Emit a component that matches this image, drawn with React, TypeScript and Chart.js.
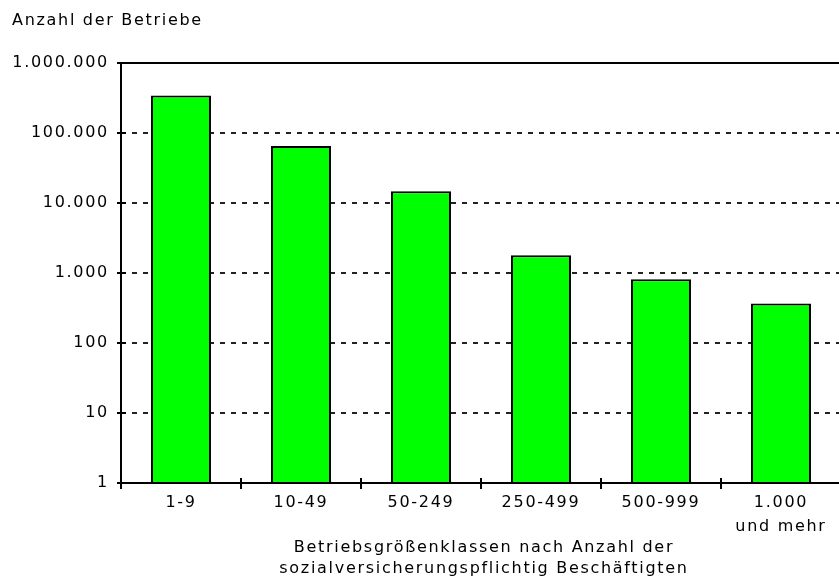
import React, { useEffect, useRef } from "react";
import { Chart, registerables } from "chart.js";

Chart.register(...registerables);

const categories: (string | string[])[] = ["1-9", "10-49", "50-249", "250-499", "500-999", ["1.000", "und mehr"]];
const betriebe: number[] = [343000, 65000, 14700, 1790, 817, 367];
const yTickValues: number[] = [1, 10, 100, 1000, 10000, 100000, 1000000];
const yTickLabels: string[] = ["1", "10", "100", "1.000", "10.000", "100.000", "1.000.000"];
const yTitle = "Anzahl der Betriebe";
const xTitle: string[] = ["Betriebsgrößenklassen nach Anzahl der", "sozialversicherungspflichtig Beschäftigten"];

const FONT_FAMILY = '"DejaVu Sans", sans-serif';
const FONT_SIZE = 16;
const LS = "1.7px";

const decorPlugin = {
  id: "decor",
  beforeDraw(chart: any) {
    chart.ctx.letterSpacing = LS;
  },
  afterDraw(chart: any) {
    const ctx = chart.ctx as CanvasRenderingContext2D;
    const a = chart.chartArea;
    const yScale = chart.scales.y;
    const line = (x1: number, y1: number, x2: number, y2: number) => {
      ctx.beginPath();
      ctx.moveTo(x1, y1);
      ctx.lineTo(x2, y2);
      ctx.stroke();
    };
    ctx.save();
    ctx.strokeStyle = "#000";
    ctx.lineWidth = 2;
    ctx.setLineDash([]);
    line(a.left, a.top, a.right + 10, a.top);
    line(a.left, a.top, a.left, a.bottom + 6);
    line(a.left - 4, a.bottom, a.right + 10, a.bottom);
    yScale.ticks.forEach((t: any) => {
      const y = yScale.getPixelForValue(t.value);
      line(a.left - 4, y, a.left + 5, y);
    });
    const n = categories.length;
    for (let i = 0; i <= n; i++) {
      const x = a.left + (i * (a.right - a.left)) / n;
      line(x, a.bottom - 5, x, a.bottom + 6);
    }
    ctx.fillStyle = "#000";
    ctx.font = `${FONT_SIZE}px ${FONT_FAMILY}`;
    (ctx as any).letterSpacing = LS;
    ctx.textBaseline = "middle";
    ctx.textAlign = "left";
    ctx.fillText(yTitle, 12, a.top - 42);
    ctx.textAlign = "center";
    const cx = (a.left + a.right) / 2 + 3;
    ctx.fillText(xTitle[0], cx, a.bottom + 65);
    ctx.fillText(xTitle[1], cx, a.bottom + 86);
    ctx.restore();
  },
};

export default function App() {
  const ref = useRef<HTMLCanvasElement | null>(null);
  useEffect(() => {
    if (!ref.current) return;
    const chart = new Chart(ref.current, {
      type: "bar",
      data: {
        labels: categories,
        datasets: [
          {
            data: betriebe,
            backgroundColor: "#00ff00",
            borderColor: "#000",
            borderWidth: 2,
            barPercentage: 0.5,
            categoryPercentage: 1,
          },
        ],
      },
      options: {
        responsive: false,
        animation: false,
        layout: { padding: { left: 0, top: 63, right: 4, bottom: 0 } },
        plugins: {
          legend: { display: false },
          tooltip: { enabled: false },
          title: { display: false },
        },
        scales: {
          x: {
            type: "category",
            grid: { display: false, drawTicks: false },
            border: { display: false },
            ticks: {
              color: "#000",
              padding: 8,
              maxRotation: 0,
              autoSkip: false,
              font: { family: FONT_FAMILY, size: FONT_SIZE, lineHeight: "24px" } as any,
            },
            afterFit: (s: any) => {
              s.height = 99;
            },
          },
          y: {
            type: "logarithmic",
            min: 1,
            max: 1000000,
            grid: { color: "#222", lineWidth: 2, drawTicks: false },
            border: { display: false, dash: [5, 6] },
            afterBuildTicks: (s: any) => {
              s.ticks = yTickValues.map((v) => ({ value: v }));
            },
            ticks: {
              color: "#000",
              padding: 12,
              autoSkip: false,
              font: { family: FONT_FAMILY, size: FONT_SIZE },
              callback: (v: any) => {
                const i = yTickValues.indexOf(Number(v));
                return i >= 0 ? yTickLabels[i] : "";
              },
            },
            afterFit: (s: any) => {
              s.width = 121;
            },
          },
        },
      },
      plugins: [decorPlugin],
    });
    return () => chart.destroy();
  }, []);
  return (
    <div style={{ position: "fixed", left: 0, top: 0, width: 839, height: 582, overflow: "hidden", background: "#fff" }}>
      <canvas ref={ref} width={845} height={582} style={{ display: "block" }} />
    </div>
  );
}
